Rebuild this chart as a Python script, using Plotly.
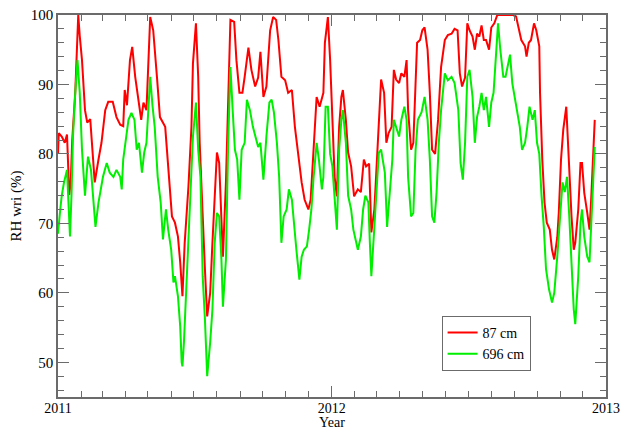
import pandas as pd
import plotly.graph_objects as go

# Days since 2011-01-01 and relative humidity readings (%)
red_days = [0, 1, 5, 9, 12, 14, 15, 17, 19, 23, 25, 27, 29, 32, 36, 39, 43, 45, 49, 54, 58, 63, 67, 73, 78, 83, 87, 89, 92, 96, 99, 103, 107, 111, 114, 118, 123, 127, 132, 136, 143, 147, 152, 156, 160, 163, 166, 169, 174, 178, 180, 184, 187, 189, 193, 196, 199, 203, 206, 209, 212, 215, 218, 220, 224, 227, 230, 235, 238, 242, 246, 249, 254, 258, 263, 267, 270, 274, 278, 283, 287, 291, 294, 298, 303, 307, 312, 316, 320, 325, 329, 334, 337, 341, 345, 349, 354, 356, 360, 363, 366, 369, 372, 375, 378, 380, 384, 387, 391, 395, 400, 404, 408, 411, 415, 418, 422, 425, 428, 431, 435, 438, 441, 445, 448, 451, 455, 458, 462, 465, 467, 471, 474, 477, 479, 483, 486, 489, 493, 496, 499, 503, 507, 511, 516, 520, 525, 529, 533, 536, 539, 543, 546, 549, 553, 556, 559, 562, 565, 568, 571, 575, 578, 582, 586, 589, 596, 603, 607, 611, 614, 618, 623, 625, 628, 631, 635, 638, 642, 643, 646, 649, 652, 656, 659, 662, 666, 668, 671, 674, 678, 680, 682, 685, 688, 690, 694, 697, 699, 702, 706, 709, 711, 714, 716]
red_vals = [80.0, 83.0, 82.5, 81.6, 82.8, 77.0, 74.1, 76.0, 82.0, 88.8, 96.0, 100.0, 97.0, 93.5, 86.3, 84.5, 85.0, 81.6, 75.9, 79.2, 81.6, 86.3, 87.5, 87.5, 85.3, 84.2, 84.0, 89.2, 87.0, 93.5, 95.4, 91.1, 88.2, 84.9, 87.4, 86.3, 99.7, 97.8, 91.1, 85.3, 83.9, 77.7, 71.0, 70.1, 68.1, 64.4, 59.5, 67.2, 75.3, 83.9, 93.0, 98.8, 91.1, 81.6, 69.5, 63.4, 56.6, 60.0, 67.2, 74.4, 80.2, 78.7, 69.5, 65.2, 75.9, 88.8, 99.3, 99.0, 93.5, 88.8, 88.8, 91.1, 95.3, 92.1, 89.7, 91.0, 94.7, 88.2, 89.7, 97.8, 99.7, 99.3, 96.4, 91.1, 90.6, 88.8, 89.2, 83.9, 80.2, 75.9, 73.4, 72.0, 73.4, 80.6, 88.2, 86.8, 88.8, 96.0, 99.7, 93.5, 83.9, 76.7, 73.9, 83.9, 88.2, 89.2, 84.9, 80.2, 78.2, 73.9, 74.9, 74.5, 79.2, 78.2, 78.6, 68.7, 72.0, 78.2, 85.9, 90.7, 88.8, 81.6, 83.0, 83.9, 92.1, 90.7, 90.2, 91.6, 91.1, 93.5, 86.3, 80.6, 81.6, 88.8, 96.0, 96.4, 97.8, 98.2, 95.0, 88.8, 80.6, 80.0, 84.9, 92.5, 96.4, 97.1, 97.3, 98.0, 97.8, 91.6, 89.7, 91.0, 98.8, 97.8, 96.9, 95.0, 97.3, 96.9, 98.5, 96.4, 96.4, 95.0, 98.2, 98.8, 100.0, 100.0, 100.0, 100.0, 100.0, 99.8, 98.2, 96.4, 95.5, 94.0, 96.0, 96.4, 98.8, 97.8, 95.5, 88.8, 79.2, 73.0, 70.1, 69.1, 66.2, 64.8, 68.0, 71.5, 79.2, 83.5, 86.8, 82.5, 76.7, 71.0, 66.2, 67.2, 72.0, 78.7, 78.7, 74.4, 71.5, 69.1, 73.0, 80.6, 84.9]

green_days = [0, 1, 3, 5, 8, 12, 14, 16, 18, 20, 23, 26, 29, 32, 36, 38, 40, 44, 47, 50, 54, 57, 60, 65, 69, 74, 78, 83, 85, 87, 90, 94, 98, 102, 105, 108, 112, 115, 118, 123, 126, 129, 133, 137, 140, 144, 147, 151, 154, 156, 160, 163, 165, 166, 168, 172, 176, 179, 180, 184, 187, 190, 193, 196, 199, 203, 206, 209, 212, 215, 218, 220, 224, 227, 230, 233, 236, 239, 242, 245, 249, 252, 256, 260, 263, 267, 270, 274, 278, 282, 285, 288, 292, 295, 298, 301, 305, 308, 312, 315, 318, 322, 325, 328, 332, 335, 338, 341, 345, 348, 352, 354, 357, 360, 363, 366, 369, 372, 375, 378, 380, 384, 387, 391, 394, 397, 400, 404, 407, 410, 414, 416, 418, 422, 425, 428, 431, 434, 436, 439, 443, 446, 448, 451, 455, 458, 462, 465, 467, 471, 474, 477, 480, 485, 489, 493, 496, 499, 502, 505, 508, 511, 516, 520, 525, 529, 534, 537, 540, 543, 546, 549, 553, 556, 559, 562, 565, 568, 571, 575, 578, 581, 585, 587, 590, 594, 597, 600, 603, 606, 609, 612, 616, 619, 623, 626, 629, 633, 636, 639, 642, 645, 648, 651, 655, 659, 662, 666, 669, 673, 676, 679, 682, 685, 688, 690, 694, 697, 699, 702, 706, 709, 711, 714, 716]
green_vals = [68.5, 70.0, 72.0, 74.0, 75.9, 77.7, 73.0, 68.1, 74.0, 82.5, 88.8, 93.5, 88.8, 80.6, 74.0, 76.7, 79.6, 77.7, 73.4, 69.5, 73.0, 74.9, 76.7, 78.7, 77.3, 76.7, 77.7, 76.7, 74.9, 79.2, 81.6, 84.9, 85.9, 84.9, 80.6, 81.6, 77.3, 80.2, 81.6, 91.1, 87.0, 83.9, 76.7, 73.0, 67.7, 72.0, 69.1, 66.2, 61.5, 62.4, 59.5, 55.2, 50.0, 49.4, 52.9, 62.4, 72.0, 79.2, 82.5, 87.4, 80.6, 76.7, 62.4, 56.2, 48.0, 52.9, 57.6, 67.2, 71.5, 71.0, 64.8, 58.0, 64.8, 81.6, 92.5, 86.3, 80.6, 79.2, 73.4, 80.6, 81.6, 87.8, 86.3, 83.9, 82.5, 81.0, 81.6, 76.3, 82.5, 87.4, 87.8, 86.0, 81.6, 76.7, 67.2, 71.0, 72.0, 74.9, 73.4, 69.5, 66.2, 61.9, 65.2, 66.2, 66.7, 69.1, 72.0, 76.7, 81.6, 79.2, 74.9, 76.7, 86.8, 86.8, 80.0, 78.2, 74.0, 69.1, 80.6, 84.9, 86.3, 81.6, 74.0, 72.0, 69.1, 67.7, 66.2, 68.1, 72.0, 74.0, 73.0, 67.2, 62.4, 69.5, 74.9, 80.2, 80.6, 78.2, 77.3, 69.5, 75.9, 79.2, 84.9, 83.9, 82.5, 84.9, 86.8, 84.9, 76.7, 71.0, 71.5, 80.6, 84.9, 86.0, 88.2, 84.9, 79.2, 71.0, 70.1, 74.5, 81.6, 86.3, 91.6, 90.6, 91.1, 90.2, 86.3, 78.7, 76.3, 81.6, 91.1, 92.1, 88.2, 81.6, 85.3, 86.8, 88.8, 86.3, 88.2, 83.9, 87.4, 88.8, 96.0, 98.8, 95.0, 91.1, 91.1, 92.5, 94.3, 90.2, 88.2, 86.8, 83.9, 80.6, 81.6, 83.9, 86.8, 84.9, 86.3, 81.6, 80.0, 74.0, 69.5, 63.4, 60.5, 58.6, 60.0, 65.2, 70.1, 75.9, 74.5, 76.7, 71.0, 64.4, 57.6, 55.5, 62.4, 70.1, 72.0, 68.1, 65.2, 64.4, 69.5, 76.7, 81.0]

series_names = ["87 cm", "696 cm"]
x_title = "Year"
y_title = "RH wri (%)"
start = pd.Timestamp("2011-01-01")
red_dates = start + pd.to_timedelta(red_days, unit="D")
green_dates = start + pd.to_timedelta(green_days, unit="D")

FONT = "Liberation Serif"
AX = "#6b6b6b"

fig = go.Figure()
fig.add_trace(go.Scatter(x=red_dates, y=red_vals, mode="lines", name=series_names[0],
                         line=dict(color="#ff0000", width=2)))
fig.add_trace(go.Scatter(x=green_dates, y=green_vals, mode="lines", name=series_names[1],
                         line=dict(color="#00ee00", width=2)))

fig.update_layout(
    width=623, height=431,
    margin=dict(l=58, r=17, t=15, b=34),
    paper_bgcolor="white", plot_bgcolor="white",
    font=dict(family=FONT, size=15, color="black"),
    showlegend=True,
    legend=dict(x=0.70, y=0.212, xanchor="left", yanchor="top",
                bgcolor="white", bordercolor=AX, borderwidth=1,
                font=dict(family=FONT, size=14), tracegroupgap=0,
                itemwidth=30),
    annotations=[dict(text=x_title, xref="paper", yref="paper", x=0.5, y=-0.089,
                      xanchor="center", yanchor="bottom", showarrow=False,
                      borderpad=0, font=dict(family=FONT, size=14))],
)
fig.update_xaxes(
    type="date", range=["2011-01-01", "2013-01-01"], automargin=False,
    tick0="2011-01-01", dtick="M12", tickformat="%Y",
    ticks="inside", ticklen=11, tickcolor=AX, tickwidth=1,
    ticklabelstandoff=-3,
    showline=True, linecolor=AX, linewidth=1.5, mirror="allticks",
    showgrid=False, zeroline=False,
    minor=dict(dtick="M1", tick0="2011-01-01", ticks="inside", ticklen=6, tickcolor=AX, showgrid=False),
    tickfont=dict(family=FONT, size=14),
)
fig.update_yaxes(
    range=[45, 100], dtick=10, tick0=0, automargin=False,
    ticks="inside", ticklen=11, tickcolor=AX, tickwidth=1,
    showline=True, linecolor=AX, linewidth=1.5, mirror="allticks",
    showgrid=False, zeroline=False,
    minor=dict(dtick=2, ticks="inside", ticklen=6, tickcolor=AX, showgrid=False),
    title=dict(text=y_title, standoff=6, font=dict(family=FONT, size=15)),
    tickfont=dict(family=FONT, size=15),
)

fig.write_html("out.html")
